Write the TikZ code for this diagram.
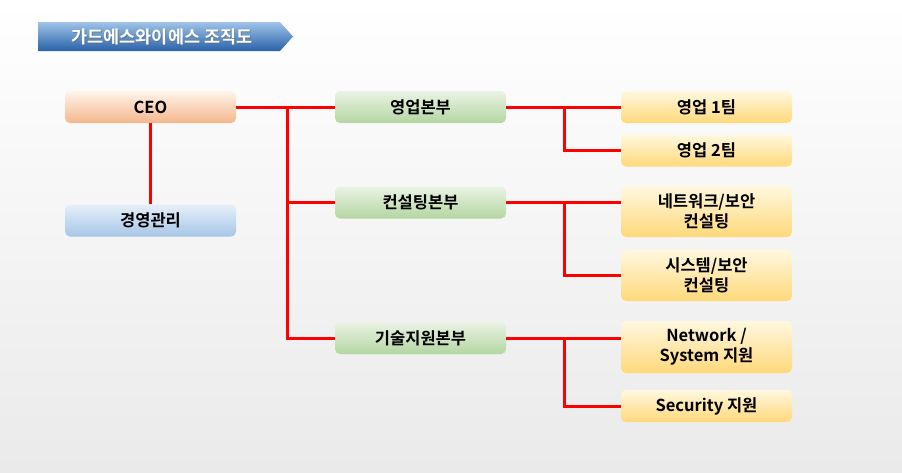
\documentclass[tikz,border=0pt]{standalone}
\usepackage{fontspec}
\newfontfamily\kr{Noto Sans CJK KR Bold}[BoldFont={Noto Sans CJK KR Bold}]
\usetikzlibrary{calc}
\definecolor{redline}{HTML}{FF0000}
\tikzset{
  box/.style={rounded corners=5pt, minimum width=171pt, minimum height=32pt, inner sep=0pt,
    font=\kr\fontsize{16.5}{20}\selectfont, align=center, text=black},
  ceobox/.style={box, top color=orange!8!white, bottom color={rgb,255:red,244;green,182;blue,140}},
  mgmtbox/.style={box, top color={rgb,255:red,230;green,239;blue,249}, bottom color={rgb,255:red,166;green,198;blue,231}},
  divbox/.style={box, top color={rgb,255:red,234;green,243;blue,228}, bottom color={rgb,255:red,180;green,214;blue,162}},
  teambox/.style={box, top color={rgb,255:red,255;green,248;blue,224}, bottom color={rgb,255:red,255;green,216;blue,122}},
  link/.style={draw=redline, line width=3pt},
}
\begin{document}
\begin{tikzpicture}[x=1pt,y=-1pt]
\shade[top color=white, bottom color={rgb,255:red,234;green,234;blue,234}] (0,0) rectangle (902,472);
\useasboundingbox (0,0) rectangle (902,472);
% title banner
\shade[top color={rgb,255:red,160;green,195;blue,232}, bottom color={rgb,255:red,40;green,98;blue,168}]
  (38,22) -- (280,22) -- (293,36.5) -- (280,51) -- (38,51) -- cycle;
\node[font=\kr\fontsize{17.5}{20}\selectfont, text=black!60, opacity=0.6] at (162.8,37.8) {가드에스와이에스 조직도};
\node[font=\kr\fontsize{17.5}{20}\selectfont, text=white] (title) at (162,37) {가드에스와이에스 조직도};
% nodes
\node[ceobox] (ceo) at (150.5,107) {CEO};
\node[mgmtbox] (mgmt) at (150.5,220.5) {경영관리};
\node[divbox] (sales) at (420.5,107) {영업본부};
\node[divbox] (cons) at (420.5,202.5) {컨설팅본부};
\node[divbox] (tech) at (420.5,338) {기술지원본부};
\node[teambox] (t1) at (706.5,107) {영업 1팀};
\node[teambox] (t2) at (706.5,150.5) {영업 2팀};
\node[teambox, minimum height=51pt] (net) at (706.5,211.5) {네트워크/보안\\컨설팅};
\node[teambox, minimum height=51pt] (sys) at (706.5,275.5) {시스템/보안\\컨설팅};
\node[teambox, minimum height=52pt] (nsup) at (706.5,347) {Network /\\System 지원};
\node[teambox] (sec) at (706.5,406) {Security 지원};
% junctions
\coordinate (b1) at (287,107);
\coordinate (b2) at (564,107);
\coordinate (b3) at (564,202.5);
\coordinate (b4) at (564,338);
% connectors
\draw[link] (ceo.east) -- (sales.west);
\draw[link] (b1) |- (cons.west);
\draw[link] (b1) |- (tech.west);
\draw[link] (ceo.south) -- (mgmt.north);
\draw[link] (sales.east) -- (t1.west);
\draw[link] (b2) |- (t2.west);
\draw[link] (cons.east) -- (cons.east -| net.west);
\draw[link] (b3) |- (sys.west);
\draw[link] (tech.east) -- (tech.east -| nsup.west);
\draw[link] (b4) |- (sec.west);
\end{tikzpicture}
\end{document}
